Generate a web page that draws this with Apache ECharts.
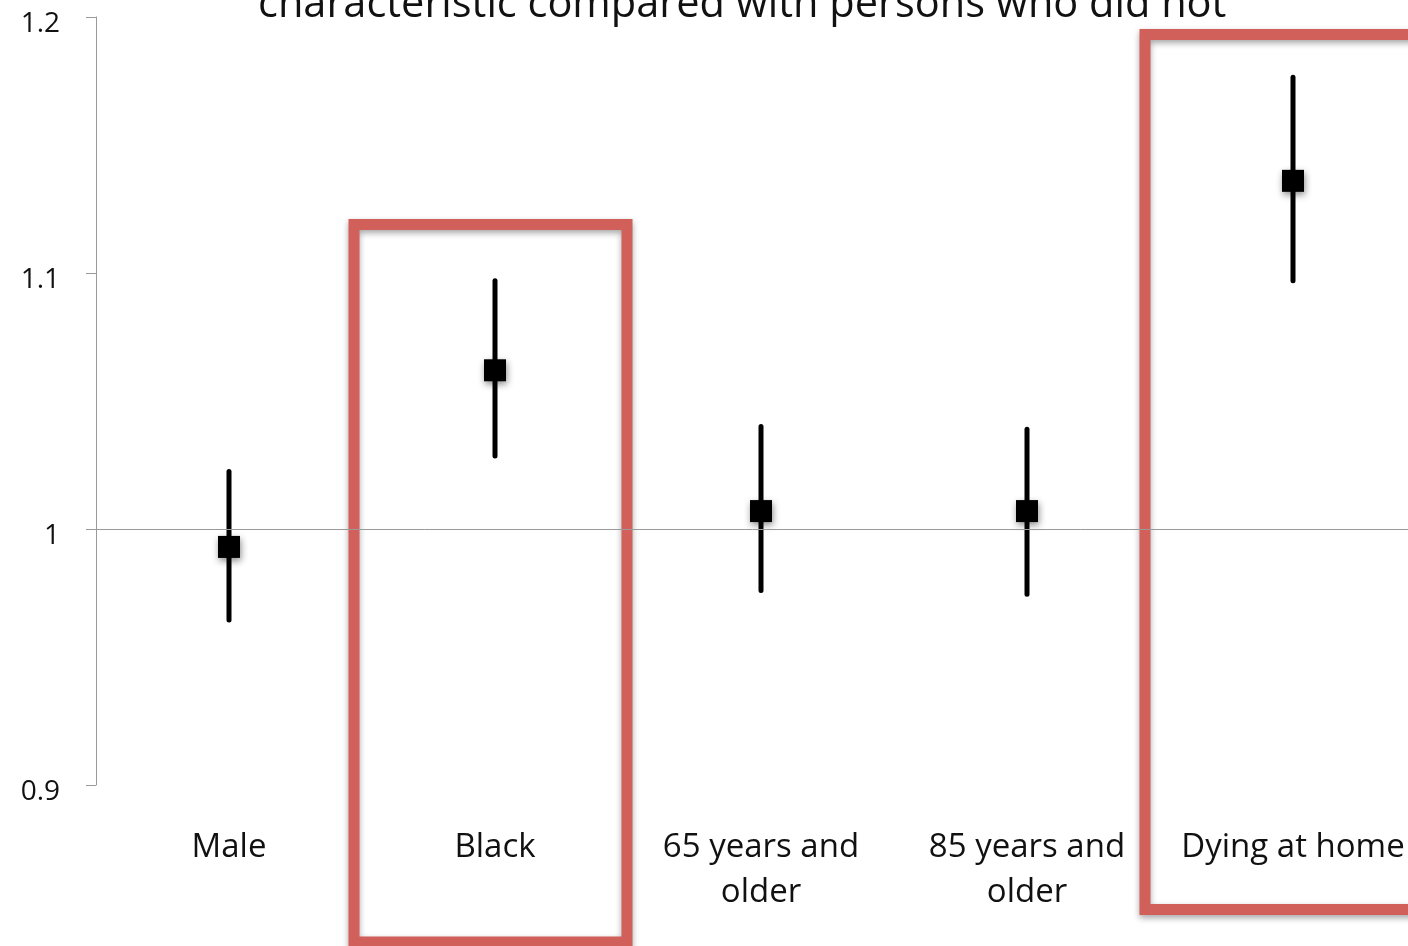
<!DOCTYPE html>
<html>
<head>
<meta charset="utf-8">
<script src="https://cdn.jsdelivr.net/npm/echarts@6/dist/echarts.min.js"></script>
<style>
  html, body { margin: 0; padding: 0; background: #ffffff; }
  #chart { width: 1408px; height: 946px; }
</style>
</head>
<body>
<div id="chart"></div>
<script>
// Relative risk per characteristic, with its confidence interval
const categories = ['Male', 'Black', '65 years and\nolder', '85 years and\nolder', 'Dying at home'];
const estimates  = [0.993, 1.062, 1.007, 1.007, 1.136];
const lowerCI    = [0.9645, 1.0285, 0.976, 0.9745, 1.097];
const upperCI    = [1.0225, 1.097, 1.040, 1.039, 1.1765];
const yTicks     = [0.9, 1.0, 1.1, 1.2];
const highlighted = ['Black', 'Dying at home'];
const titleText = 'characteristic compared with persons who did not';

const FONT = '"Open Sans", "Noto Sans", sans-serif';
const chart = echarts.init(document.getElementById('chart'), null, { renderer: 'canvas' });

const intervalData = categories.map((c, i) => [i, lowerCI[i], upperCI[i]]);
const pointData = categories.map((c, i) => [i, estimates[i]]);

const titleGraphic = {
  type: 'text',
  left: 258,
  top: -16,
  style: { text: titleText, font: '41.5px ' + FONT, fill: '#111111' },
  z: 10
};

chart.setOption({
  animation: false,
  backgroundColor: '#ffffff',
  grid: {
    left: 96, top: 17, right: -18, bottom: 161,
    containLabel: false,
    outerBoundsMode: 'none'
  },
  xAxis: {
    type: 'category',
    data: categories,
    boundaryGap: true,
    axisLine: { show: false },
    axisTick: { show: false },
    splitLine: { show: false },
    axisLabel: {
      interval: 0,
      margin: 40,
      fontFamily: FONT,
      fontSize: 33,
      lineHeight: 45,
      color: '#111111'
    }
  },
  yAxis: {
    type: 'value',
    min: 0.9,
    max: 1.2,
    interval: 0.1,
    axisLine: { show: true, lineStyle: { color: '#9a9a9a', width: 1 } },
    axisTick: { show: true, inside: false, length: 10, lineStyle: { color: '#9a9a9a' } },
    splitLine: { show: false },
    axisLabel: {
      margin: 36,
      fontFamily: FONT,
      fontSize: 28,
      color: '#111111',
      verticalAlign: 'top',
      lineHeight: 14,
      formatter: v => {
        const t = yTicks.find(x => Math.abs(x - v) < 1e-9);
        return t === undefined ? '' : (t === 1 ? '1' : String(t));
      }
    }
  },
  graphic: [titleGraphic],
  series: [
    {
      type: 'custom',
      name: 'interval',
      data: intervalData,
      encode: { x: 0, y: [1, 2] },
      z: 3,
      renderItem: (params, api) => {
        const lo = api.coord([api.value(0), api.value(1)]);
        const hi = api.coord([api.value(0), api.value(2)]);
        return {
          type: 'line',
          shape: { x1: lo[0], y1: lo[1], x2: hi[0], y2: hi[1] },
          style: { stroke: '#000000', lineWidth: 5, lineCap: 'round' }
        };
      }
    },
    {
      type: 'scatter',
      name: 'estimate',
      data: pointData,
      symbol: 'rect',
      symbolSize: 22,
      z: 4,
      itemStyle: {
        color: '#000000',
        opacity: 1,
        shadowBlur: 7,
        shadowColor: 'rgba(0,0,0,0.45)',
        shadowOffsetX: 1,
        shadowOffsetY: 3
      },
      markLine: {
        silent: true,
        symbol: 'none',
        label: { show: false },
        lineStyle: { color: '#9a9a9a', width: 1, type: 'solid' },
        data: [{ yAxis: 1 }]
      }
    }
  ]
});

// Highlight frames drawn around the emphasised categories
const boxSpec = {
  'Black':         { dx: -141, width: 273, top: 224.5, bottom: 942 },
  'Dying at home': { dx: -148, width: 300, top: 34.5,  bottom: 909.5 }
};
const frames = highlighted.map(name => {
  const idx = categories.indexOf(name);
  const cx = chart.convertToPixel({ xAxisIndex: 0 }, idx);
  const spec = boxSpec[name];
  return {
    type: 'rect',
    shape: { x: cx + spec.dx, y: spec.top, width: spec.width, height: spec.bottom - spec.top },
    style: {
      fill: 'none',
      stroke: '#d15f5a',
      lineWidth: 11,
      shadowBlur: 6,
      shadowColor: 'rgba(0,0,0,0.35)',
      shadowOffsetY: 3
    },
    z: 1
  };
});
chart.setOption({ graphic: [titleGraphic].concat(frames) });
</script>
</body>
</html>
